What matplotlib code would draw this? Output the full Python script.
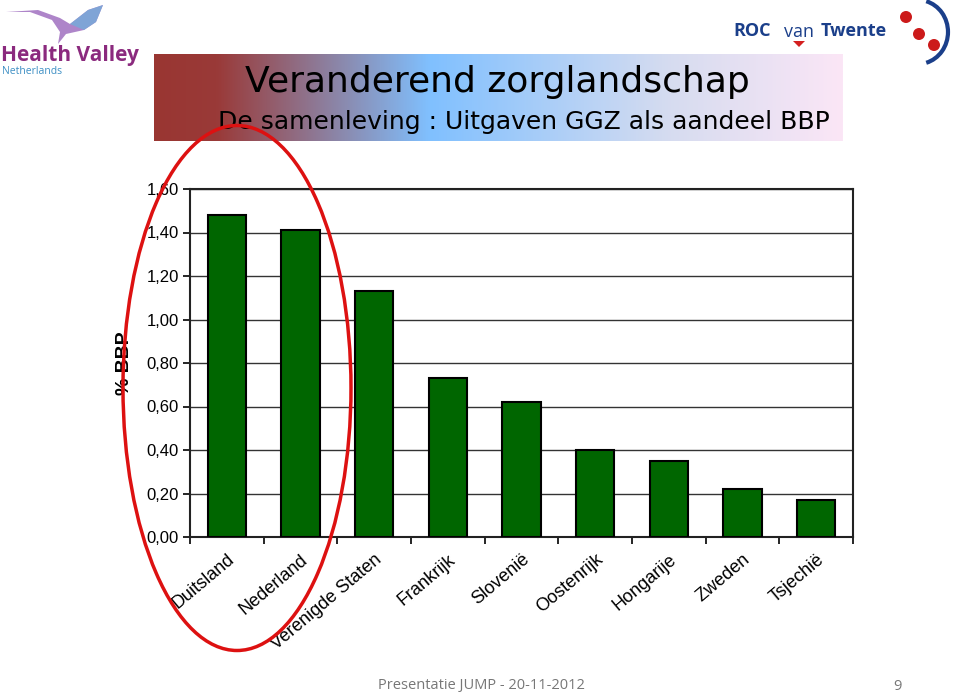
import matplotlib.pyplot as plt
import numpy as np
from matplotlib.colors import LinearSegmentedColormap
from matplotlib.patches import Ellipse, Circle, Arc, Polygon

# data
landen = ['Duitsland', 'Nederland', 'Verenigde Staten', 'Frankrijk', 'Slovenië',
          'Oostenrijk', 'Hongarije', 'Zweden', 'Tsjechië']
bbp = [1.48, 1.41, 1.13, 0.73, 0.62, 0.40, 0.35, 0.22, 0.17]
y_ticks = [0.0, 0.2, 0.4, 0.6, 0.8, 1.0, 1.2, 1.4, 1.6]
y_labels = ['0,00', '0,20', '0,40', '0,60', '0,80', '1,00', '1,20', '1,40', '1,60']

W, H = 960, 692
fig = plt.figure(figsize=(W / 100, H / 100), dpi=100)
fig.patch.set_facecolor('white')


def fx(px):
    return px / W


def fy(py):
    return 1 - py / H


# banner met kleurverloop
ban = fig.add_axes([fx(154), fy(141), fx(843 - 154), (141 - 54) / H])
cmap = LinearSegmentedColormap.from_list('ban', [
    (0.0, '#993632'), (0.09, '#9a3a38'), (0.40, '#80c0ff'),
    (0.75, '#d6dcf0'), (1.0, '#fbe6f6')])
ban.imshow(np.linspace(0, 1, 256).reshape(1, -1), aspect='auto', cmap=cmap,
           extent=[0, 1, 0, 1])
ban.axis('off')

fig.text(fx(497), fy(82), 'Veranderend zorglandschap', fontsize=26,
         ha='center', va='center', color='black', family='DejaVu Sans')
fig.text(fx(218), fy(122), 'De samenleving : Uitgaven GGZ als aandeel BBP',
         fontsize=18, ha='left', va='center', color='black', family='DejaVu Sans')

# grafiek
ax = fig.add_axes([fx(190), fy(537), fx(853 - 190), (537 - 189) / H])
x = np.arange(len(landen))
ax.bar(x, bbp, width=0.52, color='#006600', edgecolor='black', linewidth=1.5,
       zorder=3)
ax.set_xlim(-0.5, len(landen) - 0.5)
ax.set_ylim(0, 1.6)
ax.set_yticks(y_ticks)
ax.set_yticklabels(y_labels, family='Liberation Sans', fontsize=12)
ax.yaxis.grid(True, color='#333333', linewidth=1, zorder=0)
for s in ax.spines.values():
    s.set_linewidth(1.5)
    s.set_color('#222222')
ax.tick_params(axis='y', length=5, width=1.2, direction='out', pad=3)
ax.set_xticks(np.arange(len(landen) + 1) - 0.5, minor=True)
ax.set_xticks(x)
ax.set_xticklabels(landen, rotation=40, ha='right', rotation_mode='anchor',
                   family='Liberation Sans', fontsize=13)
ax.tick_params(axis='x', which='major', length=0, pad=10)
ax.tick_params(axis='x', which='minor', length=5, width=1.2, direction='out')
ax.set_ylabel('% BBP', family='Liberation Sans', fontweight='bold', fontsize=14,
              labelpad=10)

# rode ellips
ov = fig.add_axes([0, 0, 1, 1], zorder=10)
ov.set_xlim(0, W)
ov.set_ylim(H, 0)
ov.axis('off')
ov.add_patch(Ellipse((237, 388), 228, 525, fill=False, edgecolor='#dd1111',
                     linewidth=2.5))

# Health Valley logo
ov.add_patch(Polygon([[6, 12], [30, 12], [52, 20], [60, 32], [58, 44], [66, 34],
                      [84, 30], [96, 22], [103, 5], [88, 10], [70, 24], [60, 18],
                      [38, 10]],
                     closed=True, facecolor='#a070c0', edgecolor='none', alpha=0.85))
ov.add_patch(Polygon([[70, 24], [88, 10], [103, 5], [96, 22], [84, 30]],
                     closed=True, facecolor='#7aa8d8', edgecolor='none', alpha=0.9))
ov.text(1, 55, 'Health Valley', fontsize=15, fontweight='bold', color='#8b2a7e',
        family='Open Sans', va='center', ha='left')
ov.text(2, 71, 'Netherlands', fontsize=7.5, color='#3d8fc4', family='Open Sans',
        va='center', ha='left')

# ROC van Twente logo
ov.text(733, 31, 'ROC', fontsize=13, fontweight='bold', color='#1b3f8a',
        family='Open Sans', va='center', ha='left')
ov.text(784, 32, 'van', fontsize=13, color='#1b3f8a', family='Open Sans',
        va='center', ha='left')
ov.text(821, 31, 'Twente', fontsize=13, fontweight='bold', color='#1b3f8a',
        family='Open Sans', va='center', ha='left')
ov.add_patch(Polygon([[793, 41], [805, 41], [799, 47]], closed=True,
                     facecolor='#d42020', edgecolor='none'))
for cx, cy in [(906, 17), (919, 34), (934, 45)]:
    ov.add_patch(Circle((cx, cy), 6, facecolor='#cc1a1a', edgecolor='none'))
ov.add_patch(Arc((918, 32), 60, 64, theta1=-75, theta2=75, edgecolor='#1b3f8a',
                 linewidth=3))

# voettekst
ov.text(378, 686, 'Presentatie JUMP - 20-11-2012', fontsize=10.5, color='#777777',
        family='Open Sans', va='center', ha='left')
ov.text(897, 686, '9', fontsize=10.5, color='#777777', family='Open Sans',
        va='center', ha='center')

fig.savefig('out.png', dpi=100)
